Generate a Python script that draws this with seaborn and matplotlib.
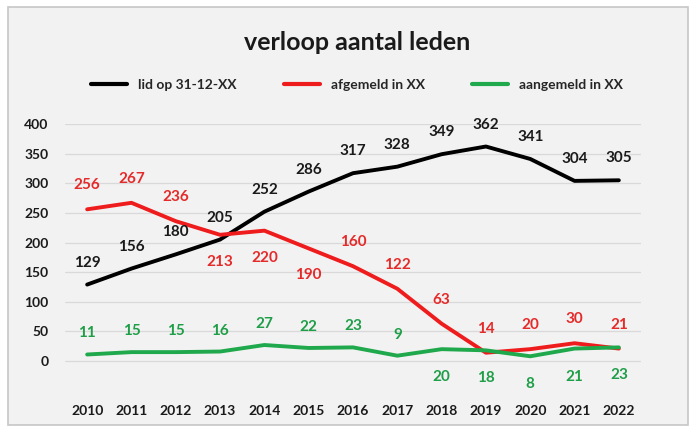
import matplotlib
matplotlib.use("Agg")
import matplotlib.pyplot as plt
import seaborn as sns
import pandas as pd
from matplotlib.patches import Rectangle

years = [str(y) for y in range(2010, 2023)]
lid = [129, 156, 180, 205, 252, 286, 317, 328, 349, 362, 341, 304, 305]
afgemeld = [256, 267, 236, 213, 220, 190, 160, 122, 63, 14, 20, 30, 21]
aangemeld = [11, 15, 15, 16, 27, 22, 23, 9, 20, 18, 8, 21, 23]
names = ["lid op 31-12-XX", "afgemeld in XX", "aangemeld in XX"]
# label position: +1 above, -1 below
afg_pos = [1, 1, 1, -1, -1, -1, 1, 1, 1, 1, 1, 1, 1]
aan_pos = [1, 1, 1, 1, 1, 1, 1, 1, -1, -1, -1, -1, -1]

sns.set_theme(style="white")
FONT = ["Lato", "DejaVu Sans"]
plt.rcParams["font.family"] = FONT

BG = "#f2f2f2"
colors = ["#000000", "#ee1c1c", "#20a84c"]
label_colors = ["#1a1a1a", "#e52a2a", "#1f9e48"]

df = pd.DataFrame({"year": years * 3,
                   "value": lid + afgemeld + aangemeld,
                   "serie": [names[0]] * 13 + [names[1]] * 13 + [names[2]] * 13})

fig = plt.figure(figsize=(6.93, 4.30), dpi=100)
fig.patch.set_facecolor("white")
fig.patches.append(Rectangle((8 / 693, 5 / 430), 680 / 693, 418 / 430,
                             transform=fig.transFigure, facecolor=BG,
                             edgecolor="#c6c6c6", linewidth=1.2, zorder=-10))

ax = fig.add_axes([65 / 693, 1 - 393.6 / 430, 576 / 693, (393.6 - 124) / 430])
ax.set_facecolor(BG)
sns.lineplot(data=df, x="year", y="value", hue="serie", palette=colors,
             linewidth=2.8, ax=ax, sort=False, legend=False)

ax.set_xlim(-0.5, 12.5)
ax.set_ylim(-55, 400)
ax.set_yticks(range(0, 401, 50))
ax.yaxis.grid(True, color="#d9d9d9", linewidth=0.9)
ax.set_axisbelow(True)
for s in ax.spines.values():
    s.set_visible(False)
ax.set_xlabel("")
ax.set_ylabel("")
ax.tick_params(axis="both", length=0, labelsize=10, colors="#1a1a1a")
for t in ax.get_xticklabels() + ax.get_yticklabels():
    t.set_fontweight("bold")
ax.tick_params(axis="y", pad=12)
ax.tick_params(axis="x", pad=8)

for i, v in enumerate(lid):
    ax.annotate(str(v), (i, v), xytext=(0, 22), textcoords="offset pixels",
                ha="center", va="center", fontsize=11, fontweight="bold",
                color=label_colors[0])
for i, v in enumerate(afgemeld):
    off = 24 if afg_pos[i] > 0 else -27
    ax.annotate(str(v), (i, v), xytext=(0, off), textcoords="offset pixels",
                ha="center", va="center", fontsize=11, fontweight="bold",
                color=label_colors[1])
for i, v in enumerate(aangemeld):
    off = 21 if aan_pos[i] > 0 else -28
    ax.annotate(str(v), (i, v), xytext=(0, off), textcoords="offset pixels",
                ha="center", va="center", fontsize=11, fontweight="bold",
                color=label_colors[2], annotation_clip=False)

fig.text(357 / 693, 1 - 42 / 430, "verloop aantal leden", ha="center", va="center",
         fontsize=18, fontweight="bold", color="#1a1a1a")

handles = [plt.Line2D([], [], color=c, linewidth=3) for c in colors]
fig.legend(handles, names, loc="center", bbox_to_anchor=(357 / 693, 1 - 85 / 430),
           ncol=3, frameon=False, handlelength=2.6,
           columnspacing=3.4, prop={"weight": "bold", "size": 10, "family": FONT})

fig.savefig("out.png", dpi=100, facecolor="white")
